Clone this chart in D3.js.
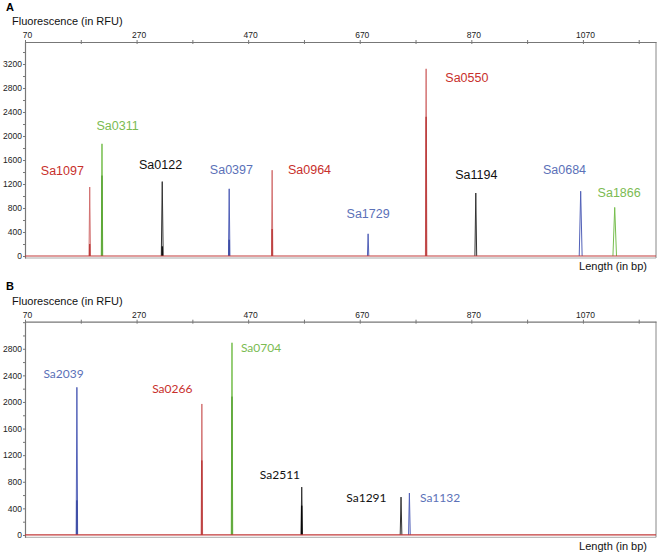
<!DOCTYPE html>
<html><head><meta charset="utf-8">
<script src="https://cdn.jsdelivr.net/npm/d3@7"></script>
<style>body{margin:0;background:#fff}</style></head>
<body><svg id="c" width="660" height="555"></svg>
<script>
// ---------- data ----------
const sizeTicks = [70,170,270,370,470,570,670,770,870,970,1070,1170];
const sizeTickLabels = [70,270,470,670,870,1070];

const rfuTicksA = [0,200,400,600,800,1000,1200,1400,1600,1800,2000,2200,2400,2600,2800,3000,3200,3400];
const rfuLabelsA = [0,400,800,1200,1600,2000,2400,2800,3200];
const rfuTicksB = [0,200,400,600,800,1000,1200,1400,1600,1800,2000,2200,2400,2600,2800,3000,3200];
const rfuLabelsB = [0,400,800,1200,1600,2000,2400,2800];

// Panel A peaks
const namesA   = ["Sa1097","Sa0311","Sa0122","Sa0397","Sa0964","Sa1729","Sa0550","Sa1194","Sa0684","Sa1866"];
const dyesA    = ["red","green","black","blue","red","blue","red","black","blue","green"];
const sizesA   = [186, 208, 316, 436, 513, 685, 789, 878, 1066, 1127];
const heightsA = [1150, 1870, 1240, 1120, 1430, 370, 3120, 1050, 1080, 810];
const innerA   = [200, 1340, 160, 270, 450, 0, 2320, 0, 0, 0];
const widthsA  = [1.3, 1.3, 1.7, 1.3, 1.2, 1.2, 1.3, 1.6, 2.6, 3.2];
const labelSizeA = [137, 236, 313, 440, 580, 685, 862, 879, 1037, 1135];
const labelRfuA  = [1350, 2100, 1450, 1367, 1367, 633, 2905, 1278, 1362, 988];

// Panel B peaks
const namesB   = ["Sa2039","Sa0266","Sa0704","Sa2511","Sa1291","Sa1132"];
const dyesB    = ["blue","red","green","black","black","blue"];
const sizesB   = [163, 387, 441, 566, 744, 759];
const heightsB = [2220, 1970, 2890, 720, 570, 630];
const innerB   = [520, 1120, 2080, 440, 0, 0];
const widthsB  = [1.3, 1.3, 1.3, 1.4, 1.5, 1.5];
const labelSizeB = [139, 334, 493, 527, 682, 814];
const labelRfuB  = [2356, 2140, 2756, 842, 500, 500];

// ---------- styling ----------
const lineColor = {red:"#d27070", green:"#76be4d", blue:"#5261b8", black:"#333333"};
const innerColor = {red:"#b83434", green:"#55a030", blue:"#34449e", black:"#000000"};
const labelColor = {red:"#c8302c", green:"#7bbb52", blue:"#5b71b8", black:"#111111"};

const svg = d3.select("#c");
const x = d3.scaleLinear().domain([70, 1201]).range([25, 656]);

function drawPanel(o) {
  const g = svg.append("g");
  const y = d3.scaleLinear().domain([o.yMin, o.yMax]).range([o.bottom, o.top]);

  g.append("text").attr("x", 6).attr("y", o.letterY).text(o.letter)
    .attr("font-family","Liberation Sans, Arial, sans-serif").attr("font-weight","bold").attr("font-size",11);
  g.append("text").attr("x", 12).attr("y", o.titleY).text("Fluorescence (in RFU)")
    .attr("font-family","Liberation Sans, Arial, sans-serif").attr("font-size",11).attr("fill","#111");

  // frame
  g.append("line").attr("x1", x.range()[1]).attr("x2", x.range()[1]).attr("y1", o.top).attr("y2", o.bottom)
    .attr("stroke","#888").attr("stroke-width",1);
  g.append("line").attr("x1", x.range()[0]).attr("x2", x.range()[1]).attr("y1", o.bottom).attr("y2", o.bottom)
    .attr("stroke","#aaa").attr("stroke-width",1);

  // top axis
  const xa = g.append("g").attr("transform", `translate(0,${o.top})`)
    .call(d3.axisTop(x).tickValues(sizeTicks).tickSize(2).tickSizeOuter(0)
      .tickFormat(d => sizeTickLabels.includes(d) ? d : ""));
  xa.select(".domain").attr("stroke","#777").attr("stroke-width",1.2);
  xa.selectAll(".tick line").attr("stroke","#777").attr("y2",-2).attr("y1",2);
  xa.selectAll(".tick text").attr("font-family","Liberation Sans, Arial, sans-serif")
    .attr("font-size",8.5).attr("fill","#222").attr("dx",2).attr("y",-4);

  // left axis
  const ya = g.append("g").attr("transform", `translate(${x.range()[0]},0)`)
    .call(d3.axisLeft(y).tickValues(o.ticks).tickSize(2).tickSizeOuter(0)
      .tickFormat(d => o.labels.includes(d) ? d : ""));
  ya.select(".domain").attr("stroke","#777").attr("stroke-width",1.2);
  ya.selectAll(".tick line").attr("stroke","#777");
  ya.selectAll(".tick text").attr("font-family","Liberation Sans, Arial, sans-serif")
    .attr("font-size",8.5).attr("fill","#222").attr("x",-3);

  g.append("text").attr("x", 647).attr("y", o.lengthY).attr("text-anchor","end").text("Length (in bp)")
    .attr("font-family","Liberation Sans, Arial, sans-serif").attr("font-size",11).attr("fill","#111");

  const line = d3.line().x(d => x(d[0])).y(d => y(d[1]));
  const peaks = o.names.map((n,i) => ({name:n, dye:o.dyes[i], size:o.sizes[i], h:o.heights[i],
      inner:o.inner[i], w:o.widths[i], ls:o.labelSize[i], lr:o.labelRfu[i]}));

  const plotG = g.append("g");
  peaks.forEach(p => {
    plotG.append("path")
      .attr("d", line([[p.size - p.w, 0], [p.size, p.h], [p.size + p.w, 0]]))
      .attr("fill","none").attr("stroke", lineColor[p.dye]).attr("stroke-width",1).attr("stroke-linejoin","miter");
    if (p.inner > 0) {
      plotG.append("path")
        .attr("d", line([[p.size - p.w*0.3, 0], [p.size, p.inner], [p.size + p.w*0.3, 0]]))
        .attr("fill","none").attr("stroke", innerColor[p.dye]).attr("stroke-width",0.9);
    }
  });
  plotG.append("line").attr("x1", x(70)).attr("x2", x(1201)).attr("y1", y(0)).attr("y2", y(0))
    .attr("stroke","#c23a3a").attr("stroke-width",1.2);

  g.selectAll(".lab").data(peaks).enter().append("text")
    .attr("x", d => x(d.ls)).attr("y", d => y(d.lr))
    .attr("text-anchor","middle").text(d => d.name)
    .attr("fill", d => labelColor[d.dye])
    .attr("font-family", o.labelFont).attr("font-size", o.labelFontSize);
}

drawPanel({letter:"A", letterY:11, titleY:25, lengthY:270, top:42, bottom:258, yMin:-33, yMax:3567,
  ticks:rfuTicksA, labels:rfuLabelsA, names:namesA, dyes:dyesA, sizes:sizesA, heights:heightsA,
  inner:innerA, widths:widthsA, labelSize:labelSizeA, labelRfu:labelRfuA,
  labelFont:"Liberation Sans, Arial, sans-serif", labelFontSize:12.5});

drawPanel({letter:"B", letterY:290, titleY:305, lengthY:550, top:321.7, bottom:537.3, yMin:-35, yMax:3207,
  ticks:rfuTicksB, labels:rfuLabelsB, names:namesB, dyes:dyesB, sizes:sizesB, heights:heightsB,
  inner:innerB, widths:widthsB, labelSize:labelSizeB, labelRfu:labelRfuB,
  labelFont:"Lato, sans-serif", labelFontSize:12});
</script>
</body></html>
